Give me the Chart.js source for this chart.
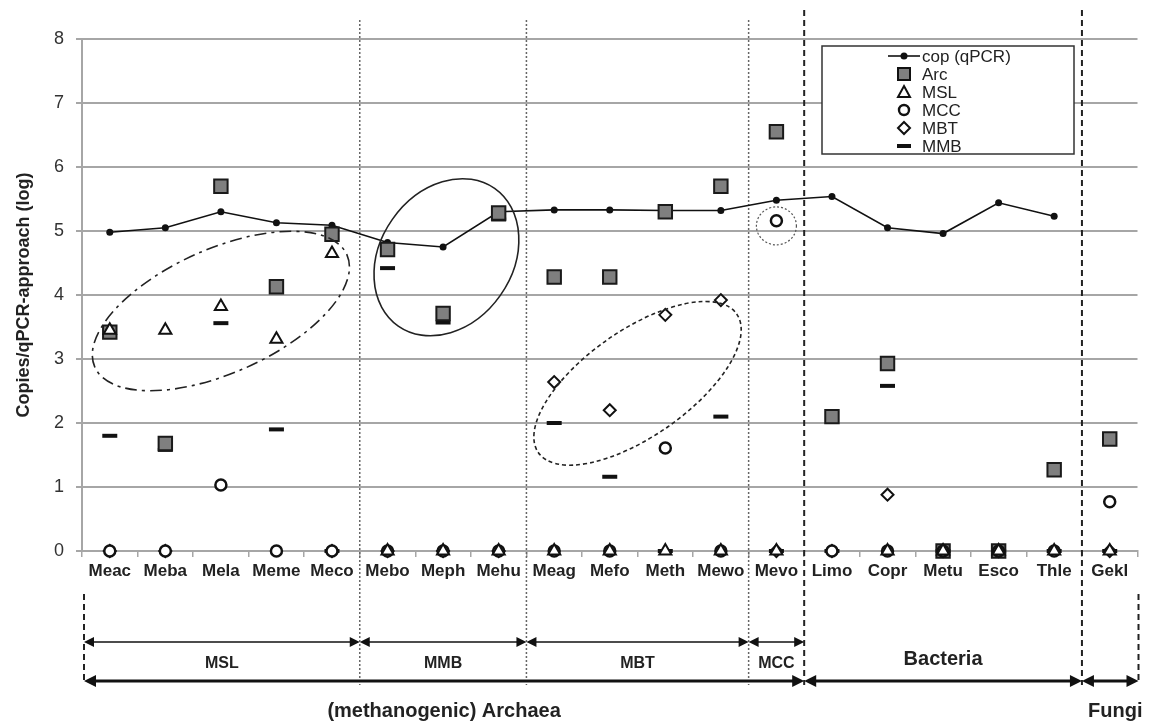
<!DOCTYPE html>
<html>
<head>
<meta charset="utf-8">
<script src="https://cdn.jsdelivr.net/npm/chart.js@4.4.1/dist/chart.umd.min.js"></script>
<style>
  html, body { margin: 0; padding: 0; background: #fff; }
  canvas { display: block; }
</style>
</head>
<body>
<canvas id="chart" width="1149" height="722" style="width:1149px;height:722px"></canvas>
<script>
'use strict';

var species = ['Meac', 'Meba', 'Mela', 'Meme', 'Meco', 'Mebo', 'Meph', 'Mehu', 'Meag', 'Mefo',
  'Meth', 'Mewo', 'Mevo', 'Limo', 'Copr', 'Metu', 'Esco', 'Thle', 'Gekl'];

var cop = [4.98, 5.05, 5.3, 5.13, 5.09, 4.82, 4.75, 5.3, 5.33, 5.33, 5.32, 5.32, 5.48, 5.54, 5.05, 4.96, 5.44, 5.23, null];
var arc = [3.42, 1.68, 5.7, 4.13, 4.95, 4.71, 3.71, 5.28, 4.28, 4.28, 5.3, 5.7, 6.55, 2.1, 2.93, 0, 0, 1.27, 1.75];
var msl = [3.45, 3.45, 3.82, 3.31, 4.65, 0, 0, 0, 0, 0, 0, 0, 0, null, 0, 0, 0, 0, 0];
var mcc = [0, 0, 1.03, 0, 0, 0, 0, 0, 0, 0, 1.61, 0, 5.16, 0, 0, 0, 0, 0, 0.77];
var mbt = [0, 0, null, null, 0, 0, 0, 0, 2.64, 2.2, 3.69, 3.92, 0, 0, 0.88, 0, 0, null, 0];
var mmb = [1.8, 1.58, 3.56, 1.9, 0, 4.42, 3.57, 5.18, 2.0, 1.16, 0, 2.1, 0, 0, 2.58, 0, 0, 0, 0];

var yTicks = [0, 1, 2, 3, 4, 5, 6, 7, 8];

// groups below the axis, as [first index, last index]
var groupNames = ['MSL', 'MMB', 'MBT', 'MCC'];
var groupSpans = [[0, 4], [5, 7], [8, 11], [12, 12]];
var kingdomNames = ['(methanogenic) Archaea', 'Bacteria', 'Fungi'];
var kingdomSpans = [[0, 12], [13, 17], [18, 18]];

var FONT = '"Liberation Sans", Arial, sans-serif';
var GRID = '#a6a6a6';

Chart.defaults.font.family = FONT;
Chart.defaults.color = '#222';

// ellipses that circle the marker groups (centre in data units, radii in px)
var rings = [
  { x: 2.0, y: 3.75, rx: 138, ry: 62, rot: -24, dash: [12, 5, 3, 5], color: '#222', width: 1.6 },
  { x: 6.06, y: 4.59, rx: 84, ry: 66, rot: -55, dash: [], color: '#222', width: 1.6 },
  { x: 9.5, y: 2.62, rx: 121, ry: 53, rot: -35, dash: [4, 3], color: '#222', width: 1.6 },
  { x: 12.0, y: 5.08, rx: 20, ry: 19, rot: 0, dash: [2, 2], color: '#555', width: 1.2 }
];

function arrow(ctx, x1, x2, y, lw, hl, hw) {
  ctx.save();
  ctx.strokeStyle = '#111';
  ctx.fillStyle = '#111';
  ctx.lineWidth = lw;
  ctx.setLineDash([]);
  ctx.beginPath();
  ctx.moveTo(x1 + hl * 0.6, y);
  ctx.lineTo(x2 - hl * 0.6, y);
  ctx.stroke();
  ctx.beginPath();
  ctx.moveTo(x1, y);
  ctx.lineTo(x1 + hl, y - hw);
  ctx.lineTo(x1 + hl, y + hw);
  ctx.closePath();
  ctx.fill();
  ctx.beginPath();
  ctx.moveTo(x2, y);
  ctx.lineTo(x2 - hl, y - hw);
  ctx.lineTo(x2 - hl, y + hw);
  ctx.closePath();
  ctx.fill();
  ctx.restore();
}

function vline(ctx, x, y1, y2, dash, color, lw) {
  ctx.save();
  ctx.strokeStyle = color;
  ctx.lineWidth = lw;
  ctx.setLineDash(dash);
  ctx.beginPath();
  ctx.moveTo(x, y1);
  ctx.lineTo(x, y2);
  ctx.stroke();
  ctx.restore();
}

function legendSymbol(ctx, kind, x, y) {
  ctx.save();
  ctx.setLineDash([]);
  ctx.strokeStyle = '#111';
  ctx.fillStyle = '#fff';
  ctx.lineWidth = 2;
  ctx.beginPath();
  if (kind === 'line') {
    ctx.lineWidth = 1.6;
    ctx.moveTo(x - 16, y); ctx.lineTo(x + 16, y); ctx.stroke();
    ctx.beginPath(); ctx.fillStyle = '#111';
    ctx.arc(x, y, 3.5, 0, Math.PI * 2); ctx.fill();
  } else if (kind === 'rect') {
    ctx.fillStyle = '#7f7f7f';
    ctx.rect(x - 6, y - 6, 12, 12); ctx.fill(); ctx.stroke();
  } else if (kind === 'triangle') {
    ctx.moveTo(x, y - 6); ctx.lineTo(x + 6, y + 5); ctx.lineTo(x - 6, y + 5); ctx.closePath();
    ctx.fill(); ctx.stroke();
  } else if (kind === 'circle') {
    ctx.lineWidth = 2.4;
    ctx.arc(x, y, 5, 0, Math.PI * 2); ctx.fill(); ctx.stroke();
  } else if (kind === 'diamond') {
    ctx.moveTo(x, y - 6); ctx.lineTo(x + 6, y); ctx.lineTo(x, y + 6); ctx.lineTo(x - 6, y); ctx.closePath();
    ctx.fill(); ctx.stroke();
  } else if (kind === 'dash') {
    ctx.lineWidth = 4;
    ctx.moveTo(x - 7, y); ctx.lineTo(x + 7, y); ctx.stroke();
  }
  ctx.restore();
}

var extras = {
  id: 'extras',
  beforeDatasetsDraw: function (chart) {
    var ctx = chart.ctx, xs = chart.scales.x, a = chart.chartArea;
    var b = a.bottom;
    // dotted dividers between archaeal groups
    [4.5, 7.5, 11.5].forEach(function (v) {
      vline(ctx, xs.getPixelForValue(v), 20, b + 134, [2, 2], '#666', 1.5);
    });
    // dashed dividers between kingdoms
    [12.5, 17.5].forEach(function (v) {
      vline(ctx, xs.getPixelForValue(v), 10, b + 134, [6, 4], '#222', 2);
    });
    vline(ctx, xs.getPixelForValue(-0.5) + 2, b + 43, b + 130, [6, 4], '#222', 2);
    vline(ctx, xs.getPixelForValue(18.5) + 1, b + 43, b + 130, [6, 4], '#222', 2);
  },
  afterDatasetsDraw: function (chart) {
    var ctx = chart.ctx, xs = chart.scales.x, ys = chart.scales.y, a = chart.chartArea;
    var b = a.bottom;

    rings.forEach(function (r) {
      ctx.save();
      ctx.strokeStyle = r.color;
      ctx.lineWidth = r.width;
      ctx.setLineDash(r.dash);
      ctx.beginPath();
      ctx.ellipse(xs.getPixelForValue(r.x), ys.getPixelForValue(r.y), r.rx, r.ry, r.rot * Math.PI / 180, 0, Math.PI * 2);
      ctx.stroke();
      ctx.restore();
    });

    function edge(i, side) {
      var x = xs.getPixelForValue(i + side * 0.5);
      if (i + side * 0.5 === -0.5) x += 2;
      if (i + side * 0.5 === 18.5) x += 1;
      return x;
    }

    ctx.save();
    ctx.textAlign = 'center';
    ctx.textBaseline = 'middle';
    ctx.fillStyle = '#222';

    groupNames.forEach(function (name, k) {
      var x1 = edge(groupSpans[k][0], -1), x2 = edge(groupSpans[k][1], 1);
      arrow(ctx, x1, x2, b + 91, 1.5, 10, 5);
      ctx.font = 'bold 16px ' + FONT;
      ctx.fillText(name, (x1 + x2) / 2, b + 113);
    });

    kingdomNames.forEach(function (name, k) {
      var x1 = edge(kingdomSpans[k][0], -1), x2 = edge(kingdomSpans[k][1], 1);
      arrow(ctx, x1, x2, b + 130, 3, 12, 6);
      ctx.font = 'bold 20px ' + FONT;
      var cx = name === 'Fungi' ? (x1 + x2) / 2 + 5 : (x1 + x2) / 2;
      ctx.fillText(name, cx, name === 'Bacteria' ? b + 108 : b + 160);
    });
    ctx.restore();

    // legend box
    var lx = 822, ly = 46, lw = 252, lh = 108;
    ctx.save();
    ctx.fillStyle = '#fff';
    ctx.fillRect(lx, ly, lw, lh);
    ctx.strokeStyle = '#333';
    ctx.lineWidth = 1.5;
    ctx.setLineDash([]);
    ctx.strokeRect(lx, ly, lw, lh);
    var items = [['line', 'cop (qPCR)'], ['rect', 'Arc'], ['triangle', 'MSL'], ['circle', 'MCC'], ['diamond', 'MBT'], ['dash', 'MMB']];
    ctx.font = '17px ' + FONT;
    ctx.textAlign = 'left';
    ctx.textBaseline = 'middle';
    items.forEach(function (it, k) {
      var y = ly + 10 + k * 18;
      legendSymbol(ctx, it[0], lx + 82, y);
      ctx.fillStyle = '#222';
      ctx.fillText(it[1], lx + 100, y + 1);
    });
    ctx.restore();
  }
};

function scatterSet(label, data, style, radius, fill, border, bw, order) {
  return {
    label: label,
    data: data,
    showLine: false,
    clip: false,
    pointStyle: style,
    pointRadius: radius,
    pointHoverRadius: radius,
    pointBackgroundColor: fill,
    pointBorderColor: border,
    pointBorderWidth: bw,
    pointHoverBorderWidth: bw,
    order: order
  };
}

new Chart(document.getElementById('chart'), {
  type: 'line',
  data: {
    labels: species,
    datasets: [
      {
        label: 'cop (qPCR)',
        data: cop,
        clip: false,
        borderColor: '#111',
        borderWidth: 1.6,
        pointStyle: 'circle',
        pointRadius: 3.5,
        pointHoverRadius: 3.5,
        pointBackgroundColor: '#111',
        pointBorderWidth: 0,
        fill: false,
        tension: 0,
        spanGaps: false,
        order: 5
      },
      scatterSet('Arc', arc, 'rect', 9.5, '#7f7f7f', '#1a1a1a', 2, 3),
      scatterSet('MSL', msl, 'triangle', 7, '#fff', '#111', 2, 0),
      scatterSet('MCC', mcc, 'circle', 5.5, '#fff', '#111', 2.5, 1),
      scatterSet('MBT', mbt, 'rectRot', 6, '#fff', '#111', 2, 2),
      scatterSet('MMB', mmb, 'line', 7.5, '#111', '#111', 4, 4)
    ]
  },
  options: {
    responsive: false,
    animation: false,
    events: [],
    layout: { padding: { top: 39, right: 7, left: 0, bottom: 0 } },
    plugins: {
      legend: { display: false },
      tooltip: { enabled: false }
    },
    scales: {
      x: {
        type: 'category',
        offset: true,
        afterFit: function (scale) { scale.height = 171; },
        grid: {
          display: true,
          offset: true,
          drawOnChartArea: false,
          drawTicks: true,
          tickLength: 6,
          color: GRID,
          lineWidth: 1.5
        },
        border: { display: true, color: GRID, width: 2 },
        ticks: {
          autoSkip: false,
          maxRotation: 0,
          padding: 4,
          color: '#222',
          font: { family: FONT, size: 17, weight: 'bold' }
        }
      },
      y: {
        min: 0,
        max: 8,
        afterFit: function (scale) { scale.width = 82; },
        afterBuildTicks: function (scale) {
          scale.ticks = yTicks.map(function (v) { return { value: v }; });
        },
        grid: {
          color: GRID,
          lineWidth: 2,
          drawTicks: true,
          tickLength: 6
        },
        border: { display: true, color: GRID, width: 2 },
        ticks: {
          padding: 12,
          color: '#333',
          font: { family: FONT, size: 18 }
        },
        title: {
          display: true,
          text: 'Copies/qPCR-approach (log)',
          color: '#222',
          padding: { top: 13, bottom: 0 },
          font: { family: FONT, size: 18, weight: 'bold' }
        }
      }
    }
  },
  plugins: [extras]
});
</script>
</body>
</html>
